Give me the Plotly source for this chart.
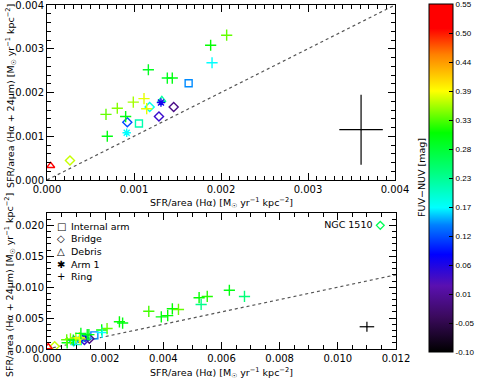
import plotly.graph_objects as go

# ---------------- data ----------------
# Internal arm (squares)
int_x = [0.001057, 0.001628]
int_y = [0.00129, 0.00221]
int_c = [0.21, 0.14]

# Bridge (diamonds)
bri_x = [0.000264, 0.000923, 0.00118, 0.001287, 0.001456]
bri_y = [0.000447, 0.00132, 0.00167, 0.00145, 0.00167]
bri_c = [0.37, 0.115, 0.18, 0.045, -0.005]

# Debris (triangles)
deb_x = [0.0000425, 0.00132]
deb_y = [0.000325, 0.00183]
deb_c = [0.52, 0.22]

# Arm 1 (asterisks)
arm_x = [0.000916, 0.00131]
arm_y = [0.00108, 0.00177]
arm_c = [0.17, 0.07]

# Ring (plus)
ring_x = [0.000693, 0.000678, 0.000808, 0.000904, 0.000992, 0.001115, 0.001146,
          0.001165, 0.001383, 0.00144, 0.001881, 0.001897, 0.002065, 0.00249,
          0.0026, 0.0035, 0.00393, 0.00415, 0.00431, 0.00452, 0.00523, 0.0053,
          0.00551, 0.00627, 0.00679]
ring_y = [0.00100, 0.00150, 0.00164, 0.00145, 0.00178, 0.00186, 0.00163,
          0.00252, 0.00233, 0.00233, 0.00308, 0.00268, 0.00331, 0.0044,
          0.0042, 0.0061, 0.0052, 0.0054, 0.0065, 0.0064, 0.0083, 0.0072,
          0.0085, 0.0095, 0.0085]
ring_c = [0.30, 0.34, 0.35, 0.30, 0.36, 0.38, 0.38,
          0.29, 0.29, 0.30, 0.31, 0.17, 0.34, 0.31,
          0.30, 0.33, 0.30, 0.31, 0.31, 0.34, 0.31, 0.23,
          0.32, 0.30, 0.24]

# NGC 1510 reference point
ngc_x = [0.01146]
ngc_y = [0.0200]
ngc_c = [0.26]

# typical error bars
err_top_x, err_top_y = [0.00361], [0.00115]
err_bot_x, err_bot_y = [0.0110], [0.0036]
err_dx, err_dy = 0.00025, 0.0008

# legend
legend_labels = ["Internal arm", "Bridge", "Debris", "Arm 1", "Ring"]
legend_glyphs = ["\u25a1", "\u25c7", "\u25b3", "\u2731", "+"]

# colour bar
cmin, cmax = -0.10, 0.55
cb_tickvals = [round(cmin + i * (cmax - cmin) / 12, 6) for i in range(13)]
cb_ticktext = ["-0.10", "-0.05", "0.01", "0.06", "0.12", "0.17", "0.23",
               "0.28", "0.33", "0.39", "0.44", "0.50", "0.55"]

x_range_top = [0, 0.004]
y_range_top = [0, 0.004]
x_range_bot = [0, 0.012]
y_range_bot = [0, 0.022]

colorscale = [
    [0.00, "#000000"],
    [0.10, "#3a0a5c"],
    [0.19, "#5a10b0"],
    [0.28, "#0000ff"],
    [0.365, "#0080ff"],
    [0.415, "#00ffff"],
    [0.515, "#00ff80"],
    [0.63, "#00ff00"],
    [0.75, "#ffff00"],
    [0.855, "#ff8000"],
    [0.93, "#ff0000"],
    [1.00, "#ff0000"],
]

FONT = "DejaVu Sans"
L, R, T, B = 47, 81, 5, 33
W, H = 477, 382
PW, PH = W - L - R, H - T - B


def px_x(px):
    return (px - L) / PW


def px_y(py):
    return (H - B - py) / PH


fig = go.Figure()

groups = [
    ("Internal arm", int_x, int_y, int_c, "square-open", 7),
    ("Bridge", bri_x, bri_y, bri_c, "diamond-open", 7),
    ("Debris", deb_x, deb_y, deb_c, "triangle-up-open", 7),
    ("Arm 1", arm_x, arm_y, arm_c, "asterisk-open", 7),
    ("Ring", ring_x, ring_y, ring_c, "cross-thin-open", 8),
]

# reference y = x lines
for xa, ya, rng in (("x", "y", x_range_top), ("x2", "y2", x_range_bot)):
    fig.add_trace(go.Scatter(x=rng, y=rng, mode="lines", xaxis=xa, yaxis=ya,
                             line=dict(color="#555555", width=1.2, dash="dot"),
                             showlegend=False, hoverinfo="skip"))

first = True
for xa, ya in (("x", "y"), ("x2", "y2")):
    for name, gx, gy, gc, sym, sz in groups:
        fig.add_trace(go.Scatter(
            x=gx, y=gy, mode="markers", xaxis=xa, yaxis=ya, showlegend=False, name=name,
            marker=dict(symbol=sym, size=sz, color=gc, colorscale=colorscale,
                        cmin=cmin, cmax=cmax, line=dict(width=1.4),
                        showscale=first,
                        colorbar=dict(
                            x=px_x(429), xanchor="left", xpad=0, ypad=0,
                            y=px_y(178), yanchor="middle",
                            len=348, lenmode="pixels", thickness=24,
                            thicknessmode="pixels",
                            outlinecolor="black", outlinewidth=1,
                            tickvals=cb_tickvals, ticktext=cb_ticktext,
                            ticks="inside", ticklen=4, tickcolor="black",
                            ticklabeloverflow="allow",
                            tickfont=dict(family="Liberation Sans", size=8, color="black"),
                        ))))
        first = False

# NGC 1510 marker
fig.add_trace(go.Scatter(
    x=ngc_x, y=ngc_y, mode="markers+text", xaxis="x2", yaxis="y2",
    text=["NGC 1510 "], textposition="middle left",
    textfont=dict(family=FONT, size=9.5, color="black"),
    marker=dict(symbol="diamond-open", size=6, color=ngc_c, colorscale=colorscale,
                cmin=cmin, cmax=cmax, line=dict(width=1.3)),
    showlegend=False))

# typical error bars
for xa, ya, ex, ey in (("x", "y", err_top_x, err_top_y), ("x2", "y2", err_bot_x, err_bot_y)):
    fig.add_trace(go.Scatter(
        x=ex, y=ey, mode="markers", xaxis=xa, yaxis=ya, showlegend=False,
        marker=dict(size=1, color="black"),
        error_x=dict(type="data", array=[err_dx], width=0, color="black", thickness=1.2),
        error_y=dict(type="data", array=[err_dy], width=0, color="black", thickness=1.2)))

ax_common = dict(showline=True, linecolor="black", linewidth=1, mirror="ticks",
                 ticks="inside", ticklen=7, tickcolor="black", showgrid=False,
                 zeroline=False, tickformat=".3f", ticklabeloverflow="allow",
                 tickfont=dict(family=FONT, size=10, color="black"))

fig.update_layout(
    width=W, height=H,
    margin=dict(l=L, r=R, t=T, b=B, autoexpand=False),
    paper_bgcolor="white", plot_bgcolor="white",
    font=dict(family=FONT, size=10, color="black"),
    showlegend=False,
    xaxis=dict(ax_common, domain=[0, px_x(395)], range=x_range_top, anchor="y",
               dtick=0.001, minor=dict(dtick=0.0001, ticks="inside", ticklen=4, tickcolor="black")),
    yaxis=dict(ax_common, domain=[px_y(180), 1], range=y_range_top, anchor="x",
               dtick=0.001, minor=dict(dtick=0.0002, ticks="inside", ticklen=4, tickcolor="black")),
    xaxis2=dict(ax_common, domain=[0, 1], range=x_range_bot, anchor="y2",
                dtick=0.002, minor=dict(dtick=0.0005, ticks="inside", ticklen=4, tickcolor="black")),
    yaxis2=dict(ax_common, domain=[0, px_y(213)], range=y_range_bot, anchor="x2",
                dtick=0.005, minor=dict(dtick=0.001, ticks="inside", ticklen=4, tickcolor="black")),
)

xt = "SFR/area (H\u03b1) [M<sub>\u2609</sub> yr<sup>\u22121</sup> kpc<sup>\u22122</sup>]"
yt = "SFR/area (H\u03b1 + 24\u03bcm) [M<sub>\u2609</sub> yr<sup>\u22121</sup> kpc<sup>\u22122</sup>]"

annots = [
    dict(text=xt, x=px_x(221), y=px_y(203)),
    dict(text=xt, x=px_x(221), y=px_y(373)),
    dict(text=yt, x=px_x(11), y=px_y(96), textangle=-90),
    dict(text=yt, x=px_x(10), y=px_y(285), textangle=-90),
    dict(text="FUV\u2212NUV [mag]", x=px_x(421), y=px_y(178), textangle=-90),
]
for a in annots:
    fig.add_annotation(xref="paper", yref="paper", showarrow=False,
                       xanchor="center", yanchor="middle",
                       font=dict(family=FONT, size=9.5, color="black"), **a)

# legend rows (glyph + label)
for i, (g, lab) in enumerate(zip(legend_glyphs, legend_labels)):
    ypos = px_y(226 + i * 12.7)
    fig.add_annotation(xref="paper", yref="paper", showarrow=False,
                       x=px_x(61), y=ypos, xanchor="center", yanchor="middle",
                       text=g, font=dict(family=FONT, size=10, color="black"))
    fig.add_annotation(xref="paper", yref="paper", showarrow=False,
                       x=px_x(69), y=ypos, xanchor="left", yanchor="middle",
                       text=lab, font=dict(family=FONT, size=9.5, color="black"))

fig.write_html("out.html", config={"displayModeBar": False},
               post_script="document.body.style.margin='0';")
